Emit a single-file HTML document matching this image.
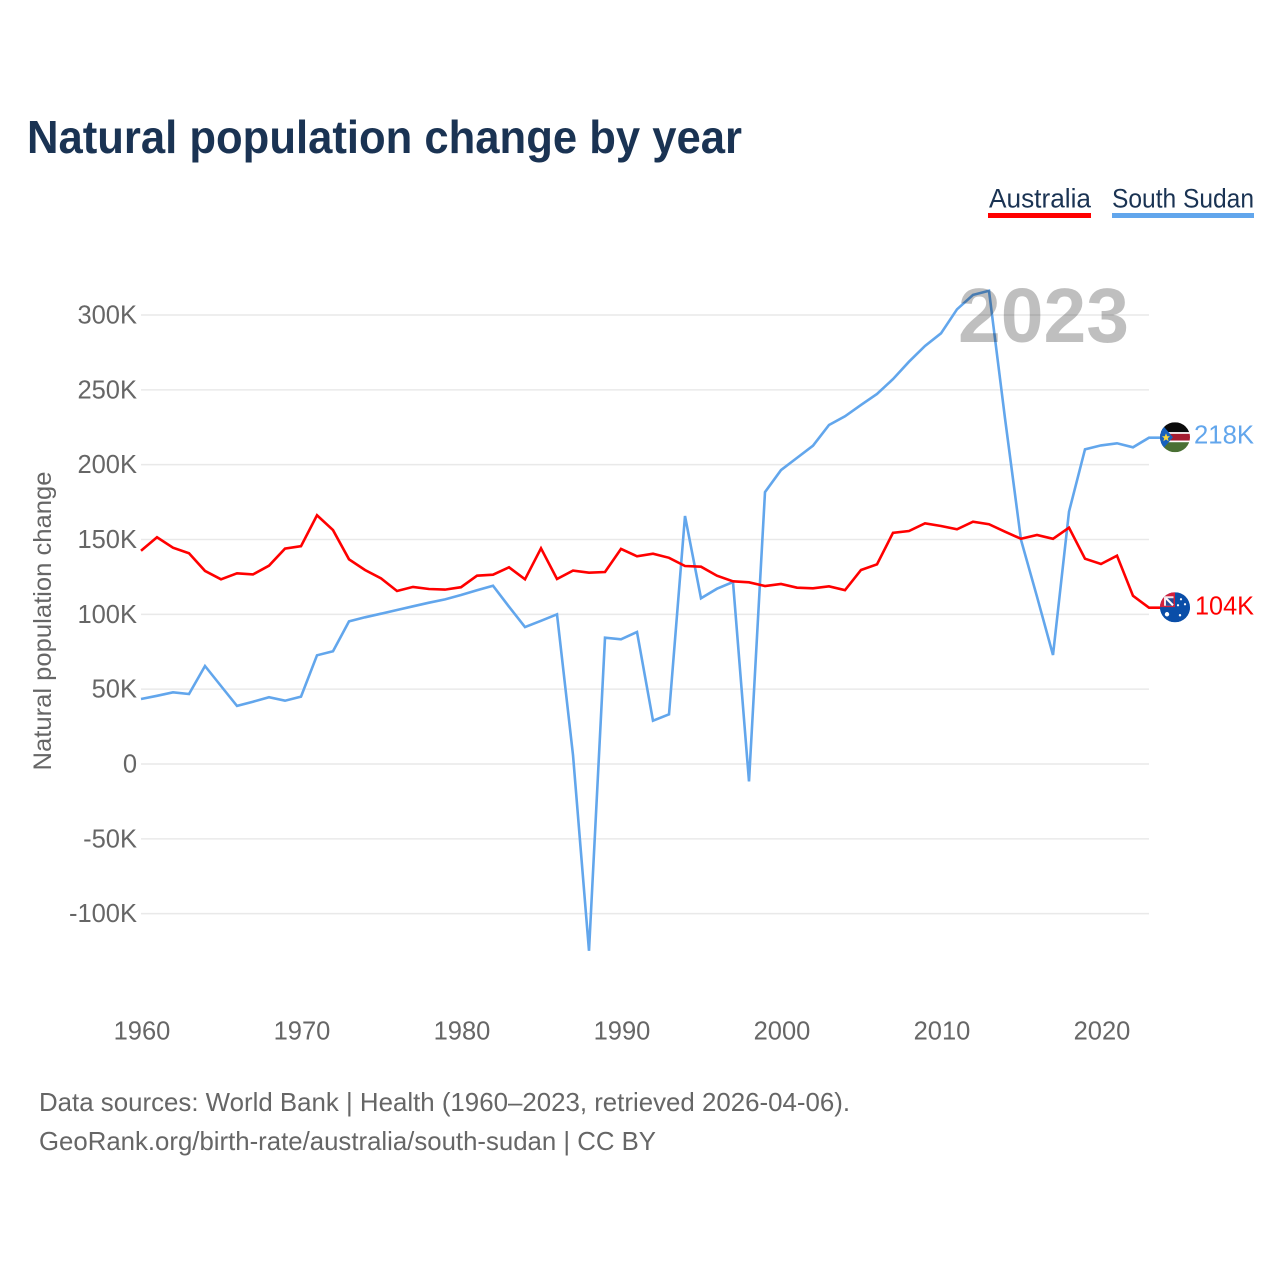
<!DOCTYPE html>
<html lang="en">
<head>
<meta charset="utf-8">
<title>Natural population change by year</title>
<style>
html,body{margin:0;padding:0;background:#fff;}
svg{display:block;}
text{font-family:"Liberation Sans",sans-serif;}
</style>
</head>
<body>
<svg id="chart" xmlns="http://www.w3.org/2000/svg" width="1280" height="1280" viewBox="0 0 1280 1280">
  <defs>
    <clipPath id="clip-ss"><circle cx="0" cy="0" r="15"/></clipPath>
    <clipPath id="clip-au"><circle cx="0" cy="0" r="15"/></clipPath>
  </defs>
  <rect x="0" y="0" width="1280" height="1280" fill="#ffffff"/>
  <text x="27" y="153" font-size="46" font-weight="700" fill="#1a3353" textLength="715" lengthAdjust="spacingAndGlyphs">Natural population change by year</text>

  <g>
    <text x="989" y="207.5" font-size="27" fill="#1a3353" textLength="102" lengthAdjust="spacingAndGlyphs">Australia</text>
    <rect x="988" y="213" width="103" height="5" fill="#ff0000"/>
  </g>
  <g>
    <text x="1112" y="207.5" font-size="27" fill="#1a3353" textLength="142" lengthAdjust="spacingAndGlyphs">South Sudan</text>
    <rect x="1112" y="213" width="142" height="5" fill="#62a6ec"/>
  </g>

  <g id="grid"></g>
  <g id="yticks"></g>
  <g id="xticks"></g>
  <text transform="translate(51,621) rotate(-90)" text-anchor="middle" font-size="25" fill="#666666" textLength="299" lengthAdjust="spacingAndGlyphs">Natural population change</text>

  <g id="lines"></g>

  <text x="958" y="342" font-size="77" font-weight="700" fill="#000000" fill-opacity="0.25" textLength="171" lengthAdjust="spacingAndGlyphs">2023</text>

  <g id="flag-ss">
    <g clip-path="url(#clip-ss)">
      <rect x="-15" y="-15" width="30" height="10" fill="#0b0b0b"/>
      <rect x="-15" y="-5" width="30" height="1.6" fill="#ffffff"/>
      <rect x="-15" y="-3.4" width="30" height="6.8" fill="#a51c30"/>
      <rect x="-15" y="3.4" width="30" height="1.6" fill="#ffffff"/>
      <rect x="-15" y="5" width="30" height="10" fill="#4a7034"/>
      <polygon points="-15,-15 -15,15 -2,0" fill="#1560bd"/>
      <polygon points="-9,-4 -7.8,-1 -5,-1 -7.2,1 -6.4,4 -9,2.2 -11.6,4 -10.8,1 -13,-1 -10.2,-1" fill="#f5d63d"/>
    </g>
  </g>
  <g id="flag-au">
    <g clip-path="url(#clip-au)">
      <rect x="-15" y="-15" width="30" height="30" fill="#0a4ea8"/>
      <rect x="-15" y="-15" width="15" height="15" fill="#d3203c"/>
      <rect x="-11" y="-11" width="9.5" height="9.5" fill="#f4e6ea"/>
      <rect x="-9" y="-9" width="7.5" height="7.5" fill="#2b4a94"/>
      <line x1="-9" y1="-9" x2="-2" y2="-2" stroke="#ffffff" stroke-width="2"/>
      <rect x="-15" y="0" width="30" height="15" fill="#0a4ea8"/>
      <circle cx="-8" cy="7" r="2.2" fill="#ffffff"/>
      <circle cx="6" cy="-8" r="1.1" fill="#ffffff"/>
      <circle cx="10" cy="-3" r="1.1" fill="#ffffff"/>
      <circle cx="3" cy="-2" r="1.1" fill="#ffffff"/>
      <circle cx="5" cy="8" r="1.2" fill="#ffffff"/>
    </g>
  </g>
  <text id="end-label-ss" x="1194" font-size="25.5" fill="#62a6ec" textLength="60" lengthAdjust="spacingAndGlyphs"></text>
  <text id="end-label-au" x="1195" font-size="25.5" fill="#ff0000" textLength="59" lengthAdjust="spacingAndGlyphs"></text>

  <text x="39" y="1111" font-size="26" fill="#666666" textLength="811" lengthAdjust="spacingAndGlyphs">Data sources: World Bank | Health (1960–2023, retrieved 2026-04-06).</text>
  <text x="39" y="1150" font-size="26" fill="#666666" textLength="617" lengthAdjust="spacingAndGlyphs">GeoRank.org/birth-rate/australia/south-sudan | CC BY</text>
</svg>
<script>
const startYear = 1960;
const australia = [142.5,151.5,144.5,140.8,129,123.4,127.4,126.7,132.5,143.9,145.5,166.2,156.3,136.8,129.6,124.1,115.6,118.3,116.9,116.5,118.1,125.8,126.5,131.4,123.4,144.1,123.6,129.2,127.8,128.3,143.7,138.8,140.5,137.8,132.3,131.8,125.8,122.1,121.4,118.9,120.3,117.8,117.4,118.7,116.1,129.6,133.4,154.5,155.7,160.8,159,156.8,161.9,160.2,155.2,150.5,153,150.5,157.9,137.2,133.6,139.2,112.4,104.4];
const southSudan = [43.4,45.6,47.9,46.8,65.5,52.1,38.8,41.6,44.6,42.3,45,72.6,75.3,95.3,98,100.4,102.9,105.4,107.8,110,112.9,116.1,119.1,105.1,91.5,95.7,100,6,-124.8,84.4,83.3,88.2,28.9,33.2,165.7,110.7,117.1,121.6,-11.6,181.7,196.4,204.5,212.7,226.5,232.3,239.9,247.2,257.2,268.8,279.3,287.8,303.8,313.4,316.2,231,149.7,111.8,72.8,168.6,210.3,212.9,214.3,211.6,218];
const yTickValues = [300,250,200,150,100,50,0,-50,-100];
const yTickLabels = ["300K","250K","200K","150K","100K","50K","0","-50K","-100K"];
const xTickYears = [1960,1970,1980,1990,2000,2010,2020];

const SVG_NS = "http://www.w3.org/2000/svg";
function xScale(year){ return 141 + (year - 1960) * 16; }
function yScale(v){ return 764 - v * (449 / 300); }

const gridG = document.getElementById("grid");
const yTicksG = document.getElementById("yticks");
const xTicksG = document.getElementById("xticks");
const linesG = document.getElementById("lines");

yTickValues.forEach(function(v, i){
  const line = document.createElementNS(SVG_NS, "line");
  
  
  line.setAttribute("x1", 141);
  line.setAttribute("x2", 1149);
  line.setAttribute("y1", yScale(v));
  line.setAttribute("y2", yScale(v));
  line.setAttribute("stroke", "#e9e9e9");
  line.setAttribute("stroke-width", "1.5");
  gridG.appendChild(line);

  const t = document.createElementNS(SVG_NS, "text");
  
  
  t.setAttribute("x", 137);
  t.setAttribute("y", yScale(v) + 8.5);
  t.setAttribute("text-anchor", "end");
  t.setAttribute("font-size", "25.5");
  t.setAttribute("fill", "#666666");
  t.textContent = yTickLabels[i];
  yTicksG.appendChild(t);
});

xTickYears.forEach(function(y){
  const t = document.createElementNS(SVG_NS, "text");
  
  
  t.setAttribute("x", xScale(y) + 1);
  t.setAttribute("y", 1039.5);
  t.setAttribute("text-anchor", "middle");
  t.setAttribute("font-size", "25.5");
  t.setAttribute("fill", "#666666");
  t.textContent = String(y);
  xTicksG.appendChild(t);
});

const endX = xScale(startYear + australia.length - 1) + 26;

function pointsFor(values){
  const pts = values.map(function(v, i){
    return xScale(startYear + i).toFixed(1) + "," + yScale(v).toFixed(1);
  });
  pts.push(endX + "," + yScale(values[values.length - 1]).toFixed(1));
  return pts.join(" ");
}

const ssLine = document.createElementNS(SVG_NS, "polyline");


ssLine.setAttribute("points", pointsFor(southSudan));
ssLine.setAttribute("fill", "none");
ssLine.setAttribute("stroke", "#62a6ec");
ssLine.setAttribute("stroke-width", "2.6");
ssLine.setAttribute("stroke-linejoin", "miter");
linesG.appendChild(ssLine);

const auLine = document.createElementNS(SVG_NS, "polyline");


auLine.setAttribute("points", pointsFor(australia));
auLine.setAttribute("fill", "none");
auLine.setAttribute("stroke", "#ff0000");
auLine.setAttribute("stroke-width", "2.6");
auLine.setAttribute("stroke-linejoin", "miter");
linesG.appendChild(auLine);

const ssLast = southSudan[southSudan.length - 1];
const auLast = australia[australia.length - 1];
document.getElementById("flag-ss").setAttribute("transform", "translate(" + endX + "," + (yScale(ssLast) - 0.5) + ")");
document.getElementById("flag-au").setAttribute("transform", "translate(" + endX + "," + (yScale(auLast) - 0.5) + ")");
const ssLabel = document.getElementById("end-label-ss");
ssLabel.setAttribute("y", yScale(ssLast) + 6);
ssLabel.textContent = Math.round(ssLast) + "K";
const auLabel = document.getElementById("end-label-au");
auLabel.setAttribute("y", yScale(auLast) + 7);
auLabel.textContent = Math.round(auLast) + "K";
</script>
</body>
</html>
